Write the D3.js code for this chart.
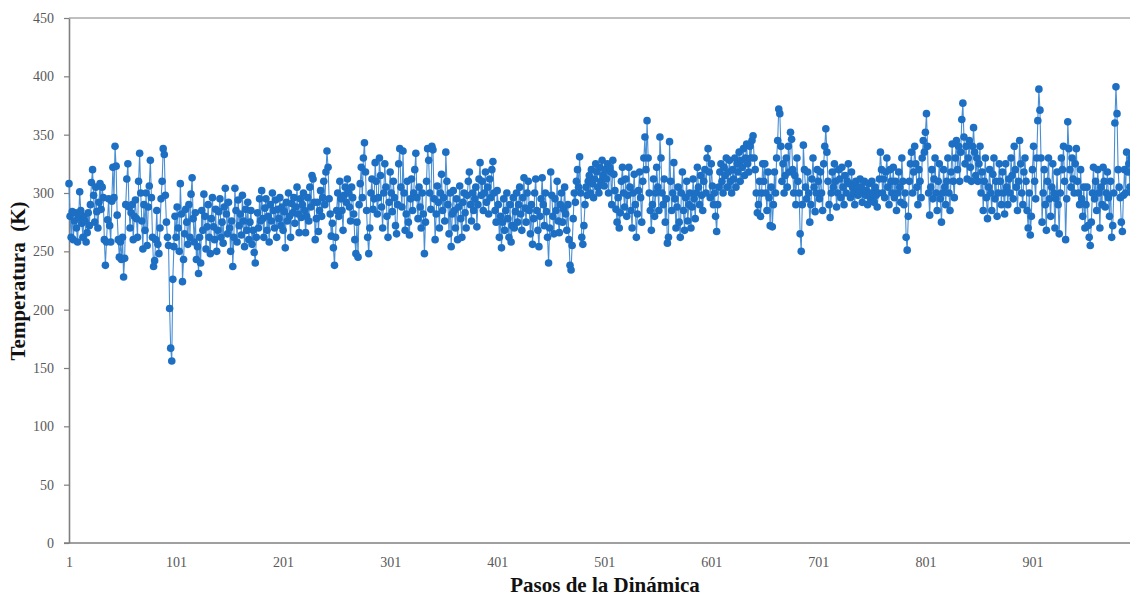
<!DOCTYPE html>
<html><head><meta charset="utf-8">
<script src="https://cdn.jsdelivr.net/npm/d3@7"></script>
<style>body{margin:0;background:#fff}svg{display:block}</style>
</head><body><svg id="c" width="1130" height="596"></svg>
<script>
const yTicks = [0,50,100,150,200,250,300,350,400,450];
const xTickLabels = [1,101,201,301,401,501,601,701,801,901];
const temps = [
308,280,262,284,260,276,283,270,258,279,
301,285,274,262,280,276,258,266,283,272,
290,309,320,298,275,305,284,270,292,308,
286,305,296,260,238,258,277,295,272,258,
293,322,296,340,323,281,260,245,258,243,
262,228,244,290,312,325,288,270,283,290,
260,280,294,278,262,310,334,300,276,252,
290,268,300,255,288,306,328,296,262,237,
242,260,285,256,248,270,295,310,338,333,
298,275,262,255,201,167,156,226,254,280,
262,288,270,250,308,282,224,243,265,286,
275,256,290,262,299,313,278,258,283,243,
254,231,262,240,285,268,299,280,252,271,
290,262,248,278,296,271,260,286,250,268,
284,295,262,275,257,288,304,282,265,292,
270,250,276,237,262,304,285,258,294,272,
282,264,298,276,254,286,268,292,260,275,
285,256,268,249,240,262,283,270,295,276,
302,278,262,287,295,268,280,258,290,276,
300,285,270,294,262,286,278,296,272,288,
268,284,253,292,276,300,280,262,291,283,
296,274,288,305,282,266,295,279,290,300,
285,266,280,296,276,305,288,315,312,292,
260,278,292,267,285,302,280,296,310,290,
318,336,322,295,282,263,274,253,238,262,
285,300,280,310,295,285,268,298,305,292,
312,300,288,276,305,296,282,260,248,275,
245,290,308,322,296,330,343,318,285,262,
248,270,300,312,286,295,326,310,282,296,
330,315,288,270,300,325,305,280,262,292,
318,300,284,310,296,272,265,290,325,338,
305,288,336,300,268,282,310,275,264,295,
312,285,300,320,334,296,278,305,288,270,
300,282,248,275,310,338,328,300,286,340,
337,295,260,282,306,292,270,300,316,285,
296,276,335,310,290,265,300,254,282,302,
285,270,295,260,288,306,278,262,292,300,
283,270,298,310,318,290,276,300,285,295,
305,271,290,312,326,298,310,285,300,318,
292,305,282,312,296,320,327,300,285,275,
302,290,262,280,253,275,295,268,285,300,
278,262,290,258,272,296,270,284,300,275,
290,305,282,268,296,313,287,275,300,310,
285,265,290,256,278,300,312,285,268,254,
280,295,313,290,272,300,284,262,240,270,
318,298,280,265,295,285,310,276,266,290,
300,275,286,305,282,268,290,260,238,234,
255,278,300,292,310,320,305,331,300,262,
256,272,290,305,298,310,315,300,320,308,
296,312,325,318,305,300,322,310,328,315,
306,320,312,325,300,322,318,290,328,316,
302,286,275,296,270,283,310,322,300,288,
312,280,298,322,305,285,270,300,316,290,
262,282,302,318,296,275,310,330,348,320,
362,330,300,285,268,290,312,280,300,322,
305,285,348,330,300,290,312,275,295,257,
262,344,310,285,300,326,295,270,288,305,
275,262,300,318,285,268,296,310,276,290,
300,270,288,312,295,278,300,322,305,290,
315,298,285,310,320,300,330,338,318,296,
325,306,290,300,280,267,290,305,318,325,
310,300,322,315,330,305,318,328,310,300,
320,312,330,305,325,318,335,310,328,322,
338,315,330,342,325,318,340,330,345,349,
330,320,300,283,290,310,280,300,325,310,
325,300,285,318,296,272,305,271,290,318,
300,330,345,372,368,340,310,325,300,315,
330,305,340,318,352,346,320,300,315,290,
330,310,300,265,250,290,341,320,305,295,
318,300,275,290,312,330,305,284,300,320,
310,295,318,300,285,325,340,355,335,310,
290,279,300,318,305,325,310,288,300,320,
312,296,322,305,290,315,300,310,325,308,
296,318,305,300,290,310,305,298,300,312,
305,292,300,310,298,302,290,308,300,295,
310,300,292,305,298,288,300,312,335,320,
300,312,296,318,330,305,290,320,310,300,
322,296,310,285,300,318,305,292,330,310,
290,300,262,251,280,310,325,335,300,318,
340,325,305,290,320,310,296,330,345,335,
352,368,340,300,281,305,320,295,312,330,
300,285,310,325,295,275,300,320,305,290,
310,330,300,285,318,342,310,296,330,345,
320,340,310,335,363,377,348,325,340,312,
330,345,322,310,340,356,335,315,330,310,
325,340,300,318,285,310,330,296,278,305,
320,300,285,316,330,295,310,280,300,325,
310,290,318,300,282,325,305,290,312,300,
330,315,295,340,320,305,285,310,345,325,
300,290,318,330,310,285,270,300,264,280,
320,340,310,295,330,362,389,371,330,275,
300,320,290,268,310,330,295,280,305,325,
300,270,295,318,290,265,300,330,320,340,
310,260,295,361,338,320,305,330,312,300,
325,338,310,300,290,320,295,280,305,270,
290,305,272,262,255,275,300,322,295,310,
285,320,300,270,305,290,322,310,288,300,
318,296,280,310,262,272,300,360,391,368,
320,305,296,275,267,298,320,300,335,318,
325,305,330,300,320
];
const steps = temps.map((_, i) => i + 1);

const svg = d3.select('#c');
const mLeft = 69, mTop = 18, mBottom = 543;
const x = d3.scaleLinear().domain([1, 1000]).range([mLeft, mLeft + 999 * 1.0705]);
const y = d3.scaleLinear().domain([0, 450]).range([mBottom, mTop]);
const serif = "'Liberation Serif','Times New Roman',serif";

// top border
svg.append('line').attr('x1', mLeft).attr('x2', 1130).attr('y1', mTop).attr('y2', mTop)
  .attr('stroke', '#808080').attr('stroke-width', 1);

// y axis
const ya = svg.append('g').attr('transform', `translate(${mLeft},0)`)
  .call(d3.axisLeft(y).tickValues(yTicks).tickSize(5).tickPadding(10).tickSizeOuter(0));
ya.select('.domain').attr('stroke', '#7f7f7f').attr('stroke-width', 1.6);
ya.selectAll('.tick line').attr('stroke', '#7f7f7f').attr('stroke-width', 1.2);
ya.selectAll('.tick text').attr('font-family', serif).attr('font-size', 14).attr('fill', '#595959');

// x axis
const xa = svg.append('g').attr('transform', `translate(0,${mBottom})`)
  .call(d3.axisBottom(x).tickValues(xTickLabels).tickSize(0).tickPadding(14).tickSizeOuter(0).tickFormat(d3.format('d')));
xa.select('.domain').remove();
svg.append('line').attr('x1', mLeft - 5).attr('x2', 1130).attr('y1', mBottom).attr('y2', mBottom)
  .attr('stroke', '#7f7f7f').attr('stroke-width', 1.6);
xa.selectAll('.tick text').attr('font-family', serif).attr('font-size', 14).attr('fill', '#595959');

// line
const line = d3.line().x((d, i) => x(steps[i])).y(d => y(d));
svg.append('path').datum(temps).attr('d', line).attr('fill', 'none')
  .attr('stroke', '#4a8fd4').attr('stroke-width', 1.1);

// markers
svg.append('g').selectAll('circle').data(temps).join('circle')
  .attr('cx', (d, i) => x(steps[i])).attr('cy', d => y(d)).attr('r', 3.8)
  .attr('fill', '#1c6fc3');

// titles
svg.append('text').attr('x', 605).attr('y', 592).attr('text-anchor', 'middle')
  .attr('font-family', serif).attr('font-weight', 'bold').attr('font-size', 21).attr('fill', '#111')
  .text('Pasos de la Dinámica');
svg.append('text').attr('transform', 'translate(25,281) rotate(-90)').attr('text-anchor', 'middle')
  .attr('font-family', serif).attr('font-weight', 'bold').attr('font-size', 21).attr('fill', '#111')
  .style('white-space', 'pre').text('Temperatura  (K)');
</script></body></html>
